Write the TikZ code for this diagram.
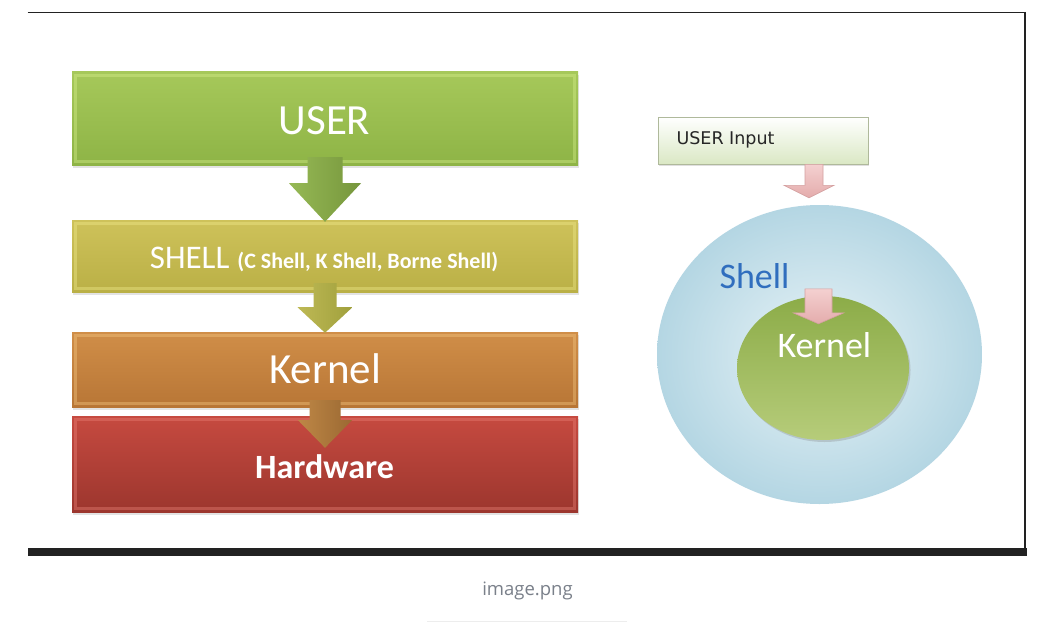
\documentclass[tikz,border=0pt]{standalone}
\usepackage{fontspec}
\setmainfont{Carlito}
\newfontfamily\dejavu{DejaVu Sans}
\newfontfamily\capfont{Open Sans}
\usetikzlibrary{calc,shapes.geometric,shadows}
\definecolor{userT}{RGB}{166,200,90}
\definecolor{userB}{RGB}{142,180,70}
\definecolor{userL}{RGB}{215,240,140}
\definecolor{shellT}{RGB}{206,194,90}
\definecolor{shellB}{RGB}{186,176,70}
\definecolor{shellL}{RGB}{240,235,140}
\definecolor{kernT}{RGB}{208,142,72}
\definecolor{kernB}{RGB}{184,118,54}
\definecolor{kernL}{RGB}{245,200,130}
\definecolor{hardT}{RGB}{198,74,64}
\definecolor{hardB}{RGB}{156,54,46}
\definecolor{hardL}{RGB}{235,130,120}
\definecolor{arrA}{RGB}{150,185,85}
\definecolor{arrAd}{RGB}{118,150,60}
\definecolor{arrB}{RGB}{190,185,85}
\definecolor{arrBd}{RGB}{160,160,60}
\definecolor{arrC}{RGB}{190,135,70}
\definecolor{arrCd}{RGB}{155,105,50}
\definecolor{inputG}{RGB}{218,232,196}
\definecolor{inputD}{RGB}{175,185,155}
\definecolor{shellI}{RGB}{232,243,247}
\definecolor{shellO}{RGB}{180,214,227}
\definecolor{kernCT}{RGB}{140,172,72}
\definecolor{kernCB}{RGB}{182,204,122}
\definecolor{pinkT}{RGB}{244,208,208}
\definecolor{pinkB}{RGB}{228,172,172}
\definecolor{pinkD}{RGB}{212,160,160}
\definecolor{shellBlue}{RGB}{48,110,190}
\definecolor{framec}{RGB}{34,34,34}
\definecolor{capgray}{RGB}{122,128,138}
\begin{document}
\begin{tikzpicture}[x=1pt,y=-1pt,
  layerbox/.style={rectangle, draw=none, minimum width=506pt, inner sep=0pt,
    drop shadow={shadow xshift=0.5pt, shadow yshift=-3pt, opacity=0.22}},
  bevel/.style={line width=2.5pt, opacity=0.4},
  boxlabel/.style={anchor=base, text=white},
  pinkarrow/.style={top color=pinkT, bottom color=pinkB, draw=pinkD, line width=0.6pt},
]
\useasboundingbox (0,0) rectangle (1056,623);
\fill[white] (0,0) rectangle (1056,623);

% frame
\draw[line width=1.2pt, framec] (27.5,12.5) -- (1026,12.5);
\draw[line width=2pt, framec] (1025,12) -- (1025,550);
\fill[framec] (27.5,548) rectangle (1027,556);

% left stack
\node[layerbox, minimum height=93pt, top color=userT, bottom color=userB] (user) at (325,118.5) {};
\node[layerbox, minimum height=72pt, top color=shellT, bottom color=shellB] (shell) at (325,256) {};
\node[layerbox, minimum height=75pt, top color=kernT, bottom color=kernB] (kern) at (325,369.5) {};
\node[layerbox, minimum height=96pt, top color=hardT, bottom color=hardB] (hard) at (325,464) {};
\draw[bevel, userL] ($(user.north west)+(3.5,3.5)$) rectangle ($(user.south east)+(-3.5,-3.5)$);
\draw[bevel, shellL] ($(shell.north west)+(3.5,3.5)$) rectangle ($(shell.south east)+(-3.5,-3.5)$);
\draw[bevel, kernL] ($(kern.north west)+(3.5,3.5)$) rectangle ($(kern.south east)+(-3.5,-3.5)$);
\draw[bevel, hardL] ($(hard.north west)+(3.5,3.5)$) rectangle ($(hard.south east)+(-3.5,-3.5)$);

% block arrows
\shade[left color=arrA, right color=arrAd]
  ($(user.south)+(-17.5,-8)$) -- ($(user.south)+(17.5,-8)$) -- ($(user.south)+(17.5,18)$)
  -- ($(user.south)+(36,18)$) -- ($(shell.north)+(0,2)$) -- ($(user.south)+(-36,18)$)
  -- ($(user.south)+(-17.5,18)$) -- cycle;
\shade[left color=arrB, right color=arrBd]
  ($(shell.south)+(-11.5,-9)$) -- ($(shell.south)+(11.5,-9)$) -- ($(shell.south)+(11.5,15)$)
  -- ($(shell.south)+(27.5,15)$) -- ($(kern.north)+(0,1)$) -- ($(shell.south)+(-27.5,15)$)
  -- ($(shell.south)+(-11.5,15)$) -- cycle;
\shade[left color=arrC, right color=arrCd]
  ($(kern.south)+(-15.5,-7)$) -- ($(kern.south)+(15.5,-7)$) -- ($(kern.south)+(15.5,13)$)
  -- ($(kern.south)+(27,13)$) -- ($(hard.north)+(0,32)$) -- ($(kern.south)+(-27,13)$)
  -- ($(kern.south)+(-15.5,13)$) -- cycle;

% labels
\node[boxlabel, font=\fontsize{43}{48}\selectfont] (tuser) at (324.5,135) {USER};
\node[boxlabel, font=\fontsize{33}{38}\selectfont] (tshell) at (324,268)
  {SHELL\hspace{8pt}{\fontsize{22}{25}\selectfont\bfseries (C Shell, K Shell, Borne Shell)}};
\node[boxlabel, font=\fontsize{43}{48}\selectfont] (tkern) at (325,383) {Kernel};
\node[boxlabel, font=\fontsize{34}{38}\selectfont\bfseries] (thard) at (324.5,478) {Hardware};

% right diagram
\node[rectangle, minimum width=210pt, minimum height=47pt, inner sep=0pt,
  top color=white, bottom color=inputG, draw=inputD, line width=0.6pt,
  drop shadow={shadow xshift=1pt, shadow yshift=-2pt, opacity=0.25}] (uin) at (763,140.5) {};
\node[anchor=base west, font=\dejavu\fontsize{17.5}{20}\selectfont, text=black!85] (tuin) at (673,144) {USER Input};

\node[ellipse, minimum width=325pt, minimum height=299pt, inner sep=0pt,
  inner color=shellI, outer color=shellO] (shellC) at (819.5,354.5) {};
\node[ellipse, minimum width=172pt, minimum height=144pt, inner sep=0pt,
  top color=kernCT, bottom color=kernCB,
  drop shadow={shadow xshift=1.5pt, shadow yshift=-2pt, opacity=0.3}] (kernC) at (823,368) {};

\path[pinkarrow]
  ($(uin.south)+(42,0)$) -- ($(uin.south)+(60,0)$) -- ($(uin.south)+(60,21)$)
  -- ($(uin.south)+(71,21)$) -- ($(shellC.north)+(-10.5,-7)$) -- ($(uin.south)+(21,21)$)
  -- ($(uin.south)+(42,21)$) -- cycle;
\path[pinkarrow]
  ($(kernC.north)+(-18,-7)$) -- ($(kernC.north)+(9,-7)$) -- ($(kernC.north)+(9,17)$)
  -- ($(kernC.north)+(21,17)$) -- ($(kernC.north)+(-4.5,28)$) -- ($(kernC.north)+(-30,17)$)
  -- ($(kernC.north)+(-18,17)$) -- cycle;

\node[anchor=base west, font=\fontsize{36}{40}\selectfont, text=shellBlue] (tshellC) at (716,288) {Shell};
\node[anchor=base west, font=\fontsize{36}{40}\selectfont, text=white] (tkernC) at (774,357) {Kernel};

% caption
\node[anchor=base, font=\capfont\fontsize{18.5}{22}\selectfont, text=capgray] (cap) at (527.5,595) {image.png};
\draw[line width=1.5pt, black!7] (427,621.5) -- (627,621.5);
\end{tikzpicture}
\end{document}
